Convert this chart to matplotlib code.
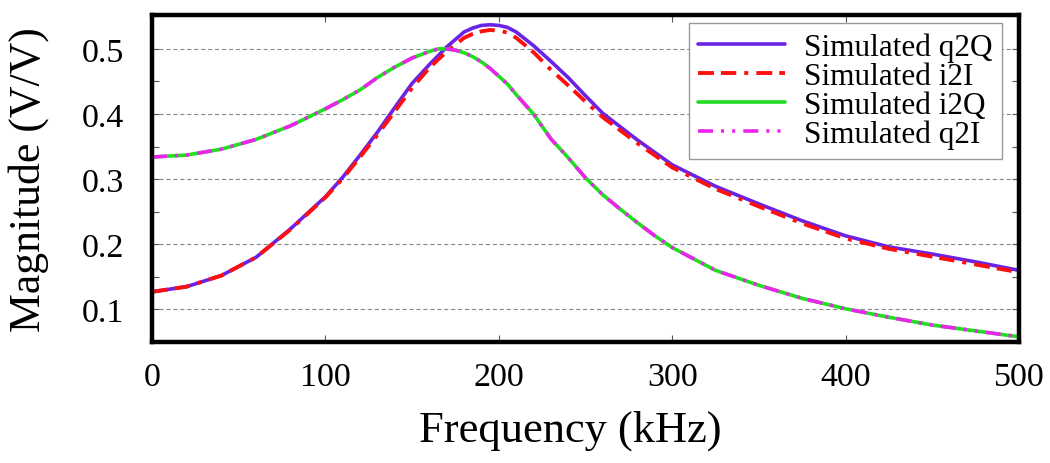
import numpy as np
import matplotlib
matplotlib.use("Agg")
import matplotlib.pyplot as plt
from matplotlib.ticker import MultipleLocator

plt.rcParams['font.family'] = ['Liberation Serif', 'DejaVu Serif']
plt.rcParams['lines.scale_dashes'] = False

# Frequency (kHz) sample points
freq_q2Q = [0, 20, 40, 60, 80, 100, 110, 120, 130, 140, 150, 160, 170, 180, 185, 190, 195,
            200, 205, 210, 220, 230, 240, 250, 260, 280, 300, 325, 350, 375, 400, 425, 450,
            475, 500]
mag_q2Q = [0.127, 0.135, 0.152, 0.180, 0.224, 0.273, 0.303, 0.337, 0.372, 0.410, 0.447,
           0.476, 0.503, 0.526, 0.532, 0.536, 0.537, 0.536, 0.533, 0.526, 0.505, 0.481,
           0.456, 0.428, 0.401, 0.360, 0.322, 0.289, 0.262, 0.236, 0.213, 0.196, 0.185,
           0.173, 0.160]

freq_i2I = freq_q2Q
mag_i2I = [0.127, 0.135, 0.152, 0.180, 0.223, 0.272, 0.301, 0.334, 0.368, 0.404, 0.440,
           0.471, 0.496, 0.517, 0.523, 0.527, 0.529, 0.528, 0.525, 0.517, 0.495, 0.468,
           0.444, 0.419, 0.395, 0.355, 0.318, 0.285, 0.258, 0.232, 0.209, 0.193, 0.181,
           0.169, 0.157]

freq_i2Q = [0, 20, 40, 60, 80, 100, 110, 120, 130, 140, 150, 160, 165, 170, 175, 180, 185,
            190, 195, 200, 205, 210, 220, 230, 240, 250, 260, 270, 280, 290, 300, 325, 350,
            375, 400, 425, 450, 475, 500]
mag_i2Q = [0.334, 0.337, 0.346, 0.361, 0.382, 0.408, 0.422, 0.437, 0.456, 0.472, 0.486,
           0.496, 0.500, 0.500, 0.498, 0.494, 0.488, 0.480, 0.470, 0.458, 0.446, 0.430,
           0.400, 0.362, 0.333, 0.302, 0.276, 0.254, 0.233, 0.213, 0.195, 0.160, 0.137,
           0.117, 0.101, 0.088, 0.076, 0.067, 0.058]

freq_q2I = freq_i2Q
mag_q2I = mag_i2Q

labels = ["Simulated q2Q", "Simulated i2I", "Simulated i2Q", "Simulated q2I"]

fig = plt.figure(figsize=(10.5, 4.64), dpi=100)
ax = fig.add_axes([152/1050, 1-343/464, (1019-152)/1050, (343-16)/464])

ax.plot(freq_q2Q, mag_q2Q, color='#6a22e6', lw=2.6, label=labels[0],
        solid_capstyle='round', solid_joinstyle='round')
ax.plot(freq_i2I, mag_i2I, color='#ff1010', lw=2.8, label=labels[1],
        dashes=[11.5, 5, 11, 5.8, 2.9, 5.8])
ax.plot(freq_i2Q, mag_i2Q, color='#22dd22', lw=2.6, label=labels[2],
        solid_capstyle='round', solid_joinstyle='round')
ax.plot(freq_q2I, mag_q2I, color='#ee22ee', lw=2.6, label=labels[3],
        dashes=[10.8, 5.8, 2.2, 5.8, 2.2, 5.8])

ax.set_xlim(0, 500)
ax.set_ylim(0.05, 0.552)
ax.xaxis.set_major_locator(MultipleLocator(100))
ax.yaxis.set_minor_locator(MultipleLocator(0.05))
ax.set_yticks([0.1, 0.2, 0.3, 0.4, 0.5])
ax.set_yticklabels(['0.1', '0.2', '0.3', '0.4', '0.5'])

ax.grid(True, axis='y', which='major', color='#888888', linestyle=(0, (3, 2)), lw=0.8)
ax.tick_params(which='both', direction='in', top=True, right=True, labelsize=24.5,
               color='#555555')
ax.tick_params(which='major', length=5, width=0.8)
ax.tick_params(which='minor', length=5, width=0.8)
ax.tick_params(axis='x', pad=14)
ax.tick_params(axis='y', pad=20)
for s in ax.spines.values():
    s.set_linewidth(3.2)

ax.set_xlabel('Frequency (kHz)', fontsize=32, labelpad=11)
ax.xaxis.set_label_coords((570 - 152) / 867, -0.205)
ax.set_ylabel('Magnitude (V/V)', fontsize=31.5, labelpad=24)

leg = ax.legend(loc='upper right', bbox_to_anchor=((1002-152)/867, (343-24)/327),
                borderaxespad=0, fontsize=22.5, frameon=True, fancybox=False,
                edgecolor='#999999', framealpha=1, handlelength=2.8,
                handletextpad=0.6, labelspacing=0.0, borderpad=0.3)
leg.get_frame().set_linewidth(1.0)

fig.savefig('out.png', dpi=100)
